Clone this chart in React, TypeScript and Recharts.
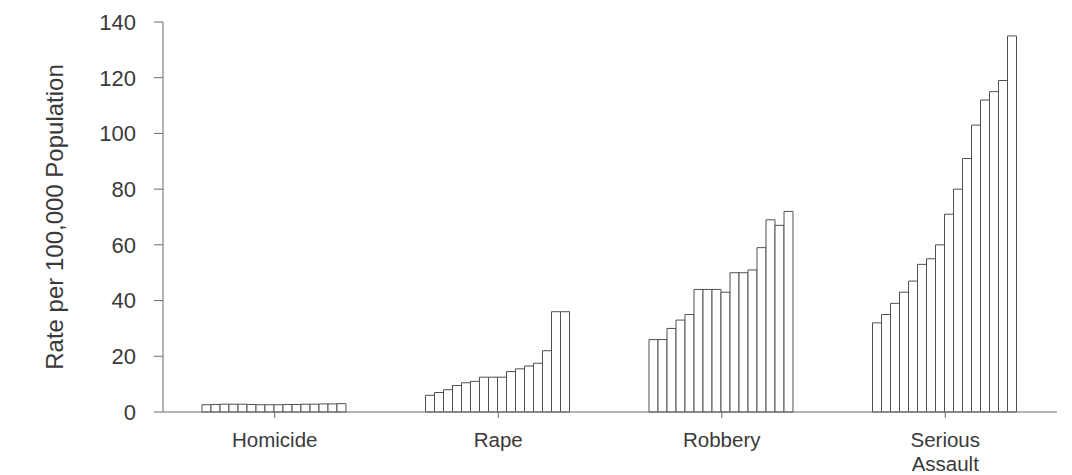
import React from 'react';
import { BarChart, Bar, XAxis, YAxis, Label } from 'recharts';

// offence categories along the x axis
const categories = ['Homicide', 'Rape', 'Robbery', 'Serious Assault'];

// sixteen yearly rates per offence, oldest first
const homicide = [2.6, 2.7, 2.8, 2.8, 2.8, 2.7, 2.6, 2.6, 2.6, 2.7, 2.7, 2.8, 2.8, 2.9, 2.9, 3.0];
const rape = [6, 7, 8, 9.5, 10.5, 11, 12.5, 12.5, 12.5, 14.5, 15.5, 16.5, 17.5, 22, 36, 36];
const robbery = [26, 26, 30, 33, 35, 44, 44, 44, 43, 50, 50, 51, 59, 69, 67, 72];
const seriousAssault = [32, 35, 39, 43, 47, 53, 55, 60, 71, 80, 91, 103, 112, 115, 119, 135];

const yTicks = [0, 20, 40, 60, 80, 100, 120, 140];

const series = [homicide, rape, robbery, seriousAssault];
const barKeys = homicide.map((_, i) => `b${i}`);

const data = categories.map((name, c) => {
  const row: Record<string, string | number> = { name };
  barKeys.forEach((k, i) => {
    row[k] = series[c][i];
  });
  return row;
});

const FONT = '"Liberation Sans", Arial, Helvetica, sans-serif';
const TEXT = '#3a3a3a';
const LINE = '#6a6a6a';

const CategoryTick = (props: any) => {
  const { x, y, payload } = props;
  const lines = String(payload.value).split(' ');
  return (
    <text x={x} y={y} textAnchor="middle" fill={TEXT} fontSize={20.5} fontFamily={FONT}>
      {lines.map((line, i) => (
        <tspan key={line} x={x} dy={i === 0 ? 27 : 24}>
          {line}
        </tspan>
      ))}
    </text>
  );
};

export default function App() {
  return (
    <div style={{ position: 'absolute', left: 0, top: 0, background: '#fff' }}>
      <BarChart
        width={1072}
        height={475}
        data={data}
        margin={{ top: 22, right: 15, bottom: 0, left: 0 }}
        barCategoryGap={39}
        barGap={0}
      >
        <XAxis
          dataKey="name"
          height={63}
          axisLine={{ stroke: LINE }}
          tickLine={{ stroke: LINE }}
          tickSize={6}
          tick={<CategoryTick />}
          interval={0}
        />
        <YAxis
          width={163}
          domain={[0, 140]}
          ticks={yTicks}
          axisLine={{ stroke: LINE }}
          tickLine={{ stroke: LINE }}
          tickSize={9}
          tickMargin={18}
          tick={{ fill: TEXT, fontSize: 22, fontFamily: FONT }}
        >
          <Label
            content={({ viewBox }: any) => {
              const cy = viewBox.y + viewBox.height / 2;
              return (
                <text
                  x={54}
                  y={cy}
                  transform={`rotate(-90, 54, ${cy})`}
                  textAnchor="middle"
                  dominantBaseline="central"
                  fill={TEXT}
                  fontSize={24}
                  fontFamily={FONT}
                >
                  Rate per 100,000 Population
                </text>
              );
            }}
          />
        </YAxis>
        {barKeys.map((k) => (
          <Bar
            key={k}
            dataKey={k}
            fill="#ffffff"
            stroke="#505050"
            strokeWidth={1}
            isAnimationActive={false}
          />
        ))}
      </BarChart>
    </div>
  );
}
